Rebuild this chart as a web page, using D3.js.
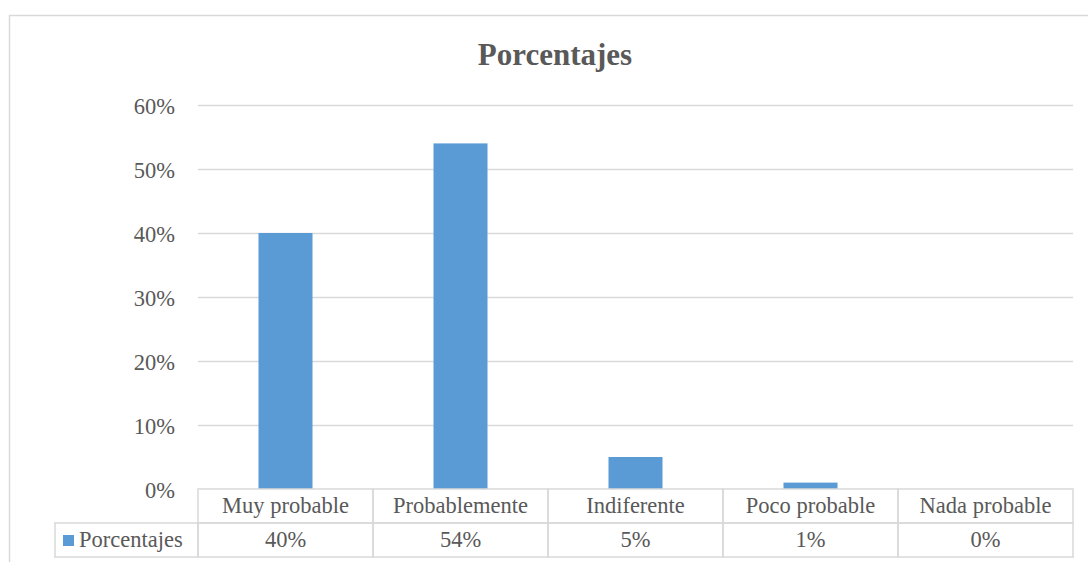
<!DOCTYPE html>
<html>
<head>
<meta charset="utf-8">
<script src="https://cdn.jsdelivr.net/npm/d3@7"></script>
<style>
  html, body { margin: 0; padding: 0; background: #fff; }
  svg { display: block; font-family: "Liberation Serif", "Times New Roman", serif; }
</style>
</head>
<body>
<svg id="chart" width="1088" height="562"></svg>
<script>
// Survey results
const categories = ["Muy probable", "Probablemente", "Indiferente", "Poco probable", "Nada probable"];
const values = [0.40, 0.54, 0.05, 0.01, 0.00];
const valueLabels = ["40%", "54%", "5%", "1%", "0%"];
const yTicks = [0, 0.1, 0.2, 0.3, 0.4, 0.5, 0.6];
const seriesName = "Porcentajes";
const chartTitle = "Porcentajes";

const svg = d3.select("#chart");
const textColor = "#595959";
const lineColor = "#d9d9d9";
const barColor = "#5b9bd5";
const labelSize = 22.5;

// chart frame (runs past the right and bottom edges)
svg.append("rect")
  .attr("x", 9.5).attr("y", 15.5)
  .attr("width", 1100).attr("height", 600)
  .attr("fill", "none").attr("stroke", lineColor).attr("stroke-width", 1.5);

const plot = { left: 198, right: 1073, top: 105, bottom: 489 };

const x = d3.scaleBand().domain(categories).range([plot.left, plot.right]).paddingInner(0).paddingOuter(0);
const y = d3.scaleLinear().domain([0, 0.6]).range([plot.bottom, plot.top]);

// title
svg.append("text")
  .attr("x", 555).attr("y", 65)
  .attr("text-anchor", "middle")
  .attr("font-size", 31).attr("font-weight", "bold")
  .attr("fill", textColor)
  .text(chartTitle);

// gridlines
svg.append("g")
  .selectAll("line")
  .data(yTicks.filter(d => d > 0))
  .join("line")
  .attr("x1", plot.left).attr("x2", plot.right)
  .attr("y1", d => Math.round(y(d)) + 0.5).attr("y2", d => Math.round(y(d)) + 0.5)
  .attr("stroke", lineColor).attr("stroke-width", 1.3);

// y axis labels
const yAxis = d3.axisLeft(y).tickValues(yTicks).tickFormat(d3.format(".0%")).tickSize(0).tickPadding(23);
const gy = svg.append("g").attr("transform", `translate(${plot.left},0)`).call(yAxis);
gy.select(".domain").remove();
gy.selectAll("text")
  .attr("font-family", "Liberation Serif, Times New Roman, serif")
  .attr("font-size", labelSize).attr("fill", textColor)
  .attr("dy", "0.36em");

// bars
const barW = 54;
svg.append("g")
  .selectAll("rect")
  .data(values.map((v, i) => ({ c: categories[i], v })))
  .join("rect")
  .attr("x", d => x(d.c) + x.bandwidth() / 2 - barW / 2)
  .attr("y", d => y(d.v))
  .attr("width", barW)
  .attr("height", d => y(0) - y(d.v))
  .attr("fill", barColor);

// data table below the plot
const rowH = 34;
const tableTop = plot.bottom;
const legendLeft = 55;
const tbl = svg.append("g").attr("stroke", lineColor).attr("stroke-width", 1.5).attr("fill", "none");
categories.forEach(c => {
  tbl.append("rect").attr("x", x(c)).attr("y", tableTop).attr("width", x.bandwidth()).attr("height", rowH);
  tbl.append("rect").attr("x", x(c)).attr("y", tableTop + rowH).attr("width", x.bandwidth()).attr("height", rowH);
});
// legend cell
tbl.append("rect").attr("x", legendLeft).attr("y", tableTop + rowH).attr("width", plot.left - legendLeft).attr("height", rowH);

svg.append("g").selectAll("text")
  .data(categories)
  .join("text")
  .attr("x", d => x(d) + x.bandwidth() / 2)
  .attr("y", tableTop + 24)
  .attr("text-anchor", "middle")
  .attr("font-size", labelSize).attr("fill", textColor)
  .text(d => d);

svg.append("g").selectAll("text")
  .data(valueLabels.map((t, i) => ({ c: categories[i], t })))
  .join("text")
  .attr("x", d => x(d.c) + x.bandwidth() / 2)
  .attr("y", tableTop + rowH + 24)
  .attr("text-anchor", "middle")
  .attr("font-size", labelSize).attr("fill", textColor)
  .text(d => d.t);

// legend key
svg.append("rect")
  .attr("x", 63).attr("y", tableTop + rowH + 12)
  .attr("width", 11).attr("height", 11)
  .attr("fill", barColor);
svg.append("text")
  .attr("x", 79).attr("y", tableTop + rowH + 24)
  .attr("font-size", labelSize).attr("fill", textColor)
  .text(seriesName);
</script>
</body>
</html>
